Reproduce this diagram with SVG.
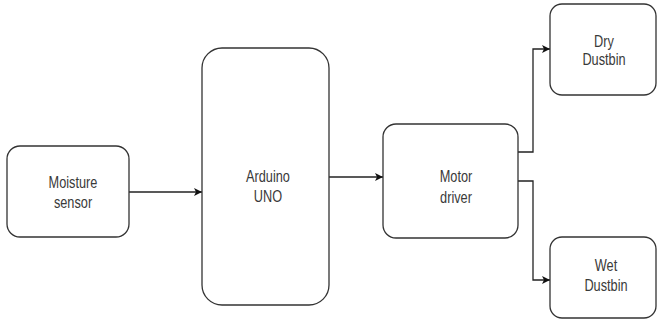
<svg xmlns="http://www.w3.org/2000/svg" width="658" height="320" viewBox="0 0 658 320">
<defs>
<marker id="arr" markerWidth="10" markerHeight="10" refX="9" refY="5" orient="auto" markerUnits="userSpaceOnUse">
<path d="M1,1 L9,5 L1,9 L3,5 Z" fill="#111"/>
</marker>
</defs>
<style>
.box{fill:#fff;stroke:#333;stroke-width:1.3}
.lbl{font-family:"Liberation Sans",Arial,sans-serif;font-size:17px;fill:#3a3a3a;text-anchor:middle}
.con{fill:none;stroke:#222;stroke-width:1.3}
</style>
<rect width="658" height="320" fill="#fff"/>
<g id="connectors">
<path class="con" d="M129,192 L202,192" marker-end="url(#arr)"/>
<path class="con" d="M329,177 L383,177" marker-end="url(#arr)"/>
<path class="con" d="M518,152 L533,152 L533,49 L550,49" marker-end="url(#arr)"/>
<path class="con" d="M518,181 L533,181 L533,280 L550,280" marker-end="url(#arr)"/>
</g>
<g id="moisture">
<rect class="box" x="7" y="146" width="122" height="91" rx="13"/>
<text class="lbl" transform="translate(73,188) scale(0.75,1)">Moisture</text>
<text class="lbl" transform="translate(73,208) scale(0.75,1)">sensor</text>
</g>
<g id="arduino">
<rect class="box" x="202" y="48" width="127" height="257" rx="20"/>
<text class="lbl" transform="translate(268,182) scale(0.75,1)">Arduino</text>
<text class="lbl" transform="translate(268,202) scale(0.75,1)">UNO</text>
</g>
<g id="motor">
<rect class="box" x="383" y="124" width="135" height="114" rx="13"/>
<text class="lbl" transform="translate(456,182) scale(0.75,1)">Motor</text>
<text class="lbl" transform="translate(456,203) scale(0.75,1)">driver</text>
</g>
<g id="dry">
<rect class="box" x="550" y="4" width="106" height="91" rx="12"/>
<text class="lbl" transform="translate(604,47) scale(0.75,1)">Dry</text>
<text class="lbl" transform="translate(604,65) scale(0.75,1)">Dustbin</text>
</g>
<g id="wet">
<rect class="box" x="550" y="237" width="106" height="81" rx="12"/>
<text class="lbl" transform="translate(606,271) scale(0.75,1)">Wet</text>
<text class="lbl" transform="translate(606,291) scale(0.75,1)">Dustbin</text>
</g>
</svg>
